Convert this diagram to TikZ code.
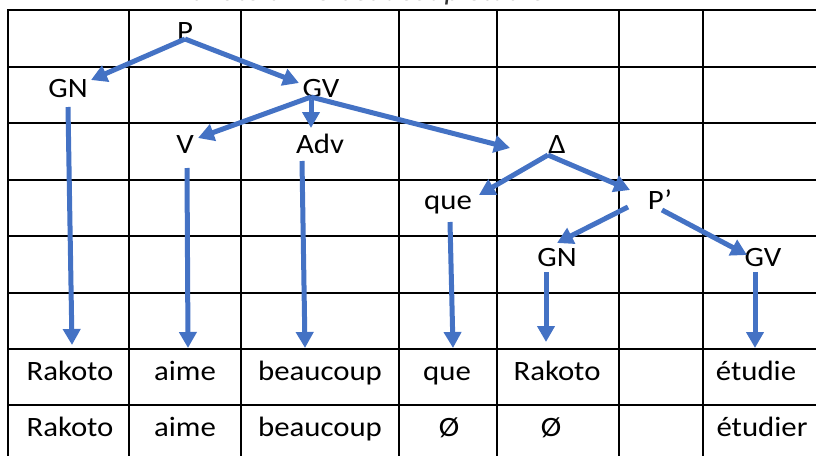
\documentclass[tikz,border=0pt]{standalone}
\usepackage{fontspec}
\setmainfont{Carlito}[FakeStretch=1.1]
\usetikzlibrary{arrows.meta}
\definecolor{arrowblue}{RGB}{68,114,196}
\tikzset{
  lbl/.style={anchor=base, inner sep=0pt, font=\fontsize{28}{34}\selectfont},
  gridline/.style={line width=2pt, black},
  arr/.style={line width=5pt, arrowblue, -{Triangle[length=16pt,width=17pt]}},
  titletext/.style={anchor=base west, inner sep=0pt, font=\fontsize{28}{34}\selectfont\itshape, black!80}
}
\begin{document}
\begin{tikzpicture}[x=1pt,y=-1pt]
\useasboundingbox (0,0) rectangle (816,455);
\clip (0,0) rectangle (816,455);
% clipped title (only the bottom of the letters shows)
\node[titletext] (title) at (175,0.5) {Rakoto aime beaucoup étudier};
% grid
\foreach \x in {8,129,241,399,497,619,703,821}
  \draw[gridline] (\x,10) -- (\x,470);
\foreach \y in {10,66.5,123,179.5,236,292.5,349,405,462}
  \draw[gridline] (7,\y) -- (830,\y);
% tree labels
\node[lbl] (P) at (185,40) {P};
\node[lbl] (GN) at (68,97) {GN};
\node[lbl] (GV) at (321,97) {GV};
\node[lbl] (V) at (185,153) {V};
\node[lbl] (Adv) at (320,153) {Adv};
\node[lbl] (Delta) at (557,153) {Δ};
\node[lbl] (que) at (448,209) {que};
\node[lbl] (Pp) at (660,209) {P’};
\node[lbl] (GNb) at (557,266) {GN};
\node[lbl] (GVb) at (763,266) {GV};
% row 7
\node[lbl] (r1) at (70,380) {Rakoto};
\node[lbl] (a1) at (185,380) {aime};
\node[lbl] (b1) at (320,380) {beaucoup};
\node[lbl] (q1) at (447,380) {que};
\node[lbl] (k1) at (557,380) {Rakoto};
\node[lbl] (e1) at (756,380) {étudie};
% row 8
\node[lbl] (r2) at (70,436) {Rakoto};
\node[lbl] (a2) at (185,436) {aime};
\node[lbl] (b2) at (320,436) {beaucoup};
\node[lbl] (z1) at (449,436) {Ø};
\node[lbl] (z2) at (551,436) {Ø};
\node[lbl] (e2) at (762,436) {étudier};
% arrow end points
\coordinate (P-o) at (185,39);
\coordinate (GN-i) at (91,80);
\coordinate (GV-i) at (299,83);
\coordinate (GV-o) at (311,97);
\coordinate (GV-od) at (311,100);
\coordinate (V-i) at (198,138);
\coordinate (Adv-i) at (311,128);
\coordinate (Delta-i) at (510,148);
\coordinate (Delta-o) at (548,155);
\coordinate (que-i) at (479,195);
\coordinate (Pp-i) at (630,190);
\coordinate (Pp-ol) at (628,207);
\coordinate (Pp-or) at (662,210);
\coordinate (GNb-i) at (557,243);
\coordinate (GVb-i) at (747,255);
\coordinate (GN-o) at (68,107);
\coordinate (r1-i) at (72,345);
\coordinate (V-o) at (187,168);
\coordinate (a1-i) at (188,348);
\coordinate (Adv-o) at (302,161);
\coordinate (b1-i) at (305,348);
\coordinate (que-o) at (450,222);
\coordinate (q1-i) at (453,348);
\coordinate (GNb-o) at (546,272);
\coordinate (k1-i) at (546,342);
\coordinate (GVb-o) at (755,272);
\coordinate (e1-i) at (755,348);
% arrows
\draw[arr] (P-o) -- (GN-i);
\draw[arr] (P-o) -- (GV-i);
\draw[arr] (GV-o) -- (V-i);
\draw[arr] (GV-od) -- (Adv-i);
\draw[arr] (GV-o) -- (Delta-i);
\draw[arr] (Delta-o) -- (que-i);
\draw[arr] (Delta-o) -- (Pp-i);
\draw[arr] (Pp-ol) -- (GNb-i);
\draw[arr] (Pp-or) -- (GVb-i);
\draw[arr] (GN-o) -- (r1-i);
\draw[arr] (V-o) -- (a1-i);
\draw[arr] (Adv-o) -- (b1-i);
\draw[arr] (que-o) -- (q1-i);
\draw[arr] (GNb-o) -- (k1-i);
\draw[arr] (GVb-o) -- (e1-i);
\end{tikzpicture}
\end{document}
